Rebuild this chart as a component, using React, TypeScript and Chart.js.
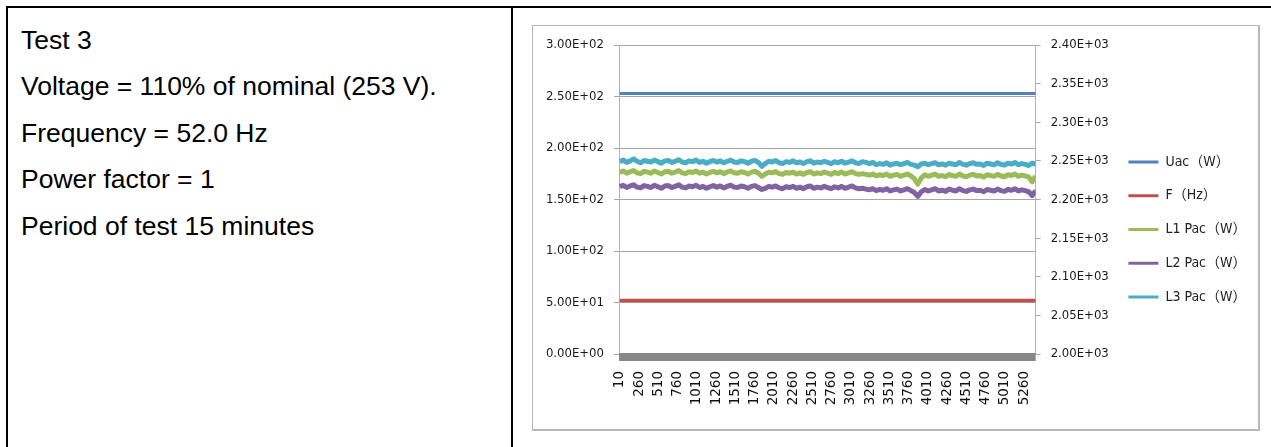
import React, { useEffect, useRef } from 'react';
import { Chart, registerables } from 'chart.js';

Chart.register(...registerables);

// ---------- DATA ----------
const sampleTimes = [
  10, 55, 100, 145, 190, 235, 280, 325, 370, 415,
  460, 505, 550, 595, 640, 685, 730, 775, 820, 865,
  910, 955, 1000, 1045, 1090, 1135, 1180, 1225, 1270, 1315,
  1360, 1405, 1450, 1495, 1540, 1585, 1630, 1675, 1720, 1765,
  1810, 1855, 1900, 1945, 1990, 2035, 2080, 2125, 2170, 2215,
  2260, 2305, 2350, 2395, 2440, 2485, 2530, 2575, 2620, 2665,
  2710, 2755, 2800, 2845, 2890, 2935, 2980, 3025, 3070, 3115,
  3160, 3205, 3250, 3295, 3340, 3385, 3430, 3475, 3520, 3565,
  3610, 3655, 3700, 3745, 3790, 3835, 3880, 3925, 3970, 4015,
  4060, 4105, 4150, 4195, 4240, 4285, 4330, 4375, 4420, 4465,
  4510, 4555, 4600, 4645, 4690, 4735, 4780, 4825, 4870, 4915,
  4960, 5005, 5050, 5095, 5140, 5185, 5230, 5275, 5320, 5365, 5410,
];

const flatTimes = [10, 5410];
const uacValues = [253, 253];
const fValues = [52, 52];

const l1Values = [
  2235, 2237, 2234, 2236, 2237.5, 2234.5, 2233.5, 2236.5, 2235.5, 2234,
  2237, 2235, 2233, 2236, 2236.5, 2234, 2235.5, 2237.5, 2234.5, 2233.5,
  2236, 2235, 2237, 2234, 2235.5, 2233, 2235, 2236.5, 2234.5, 2236,
  2233.5, 2235.5, 2237, 2234.5, 2234, 2236, 2235, 2233, 2235.5, 2236.5,
  2234, 2230, 2233, 2235.5, 2234.5, 2236, 2233.5, 2232.5, 2235, 2234,
  2235.5, 2233, 2234.5, 2232.5, 2235, 2236, 2233, 2234.5, 2233.5, 2235.5,
  2234, 2232.5, 2235, 2233.5, 2235.5, 2233, 2234.5, 2236, 2233.5, 2232.5,
  2233.5, 2232.5, 2231.5, 2233, 2230.5, 2232, 2231, 2233, 2230, 2231.5,
  2232.5, 2230, 2231.5, 2233, 2230.5, 2227, 2220, 2228, 2232, 2230,
  2231.5, 2233, 2230, 2231, 2229.5, 2232.5, 2231, 2230, 2233, 2230.5,
  2229.5, 2231.5, 2232.5, 2230.5, 2231, 2229, 2232, 2231, 2230, 2232.5,
  2230.5, 2229.5, 2232, 2231, 2233, 2230, 2231.5, 2230.5, 2229, 2223, 2230.5,
];

const l2Values = [
  2216.5, 2218.5, 2215.5, 2217.5, 2219, 2216, 2215, 2218, 2217, 2215.5,
  2218.5, 2216.5, 2214.5, 2217.5, 2218, 2215.5, 2217, 2219, 2216, 2215,
  2217.5, 2216.5, 2218.5, 2215.5, 2217, 2214.5, 2216.5, 2218, 2216, 2217.5,
  2215, 2217, 2218.5, 2216, 2215.5, 2217.5, 2216.5, 2214.5, 2217, 2218,
  2215.5, 2213, 2214.5, 2217, 2216, 2217.5, 2215, 2214, 2216.5, 2215.5,
  2217, 2214.5, 2216, 2214, 2216.5, 2217.5, 2214.5, 2216, 2215, 2217,
  2215.5, 2214, 2216.5, 2215, 2217, 2214.5, 2216, 2217.5, 2215, 2214,
  2214.5, 2213.5, 2212.5, 2214, 2211.5, 2213, 2212, 2214, 2211, 2212.5,
  2213.5, 2211, 2212.5, 2214, 2211.5, 2209, 2204, 2210, 2213, 2211,
  2212.5, 2214, 2211, 2212, 2210.5, 2213.5, 2212, 2211, 2214, 2211.5,
  2210.5, 2212.5, 2213.5, 2211.5, 2212, 2210, 2213, 2212, 2211, 2213.5,
  2211.5, 2210.5, 2213, 2212, 2214, 2211, 2212.5, 2211.5, 2210, 2205, 2211.5,
];

const l3Values = [
  2249, 2251, 2248, 2250, 2252.5, 2249.5, 2247.5, 2250.5, 2249.5, 2248.5,
  2251, 2249, 2247, 2250, 2250.5, 2248, 2249.5, 2251.5, 2248.5, 2247.5,
  2250, 2249, 2251, 2248, 2249.5, 2247, 2249, 2250.5, 2248.5, 2250,
  2247.5, 2249.5, 2251, 2248.5, 2248, 2250, 2249, 2247, 2249.5, 2250.5,
  2248, 2243, 2246.5, 2249.5, 2248.5, 2250.5, 2247.5, 2246.5, 2249, 2248,
  2250, 2247.5, 2248.5, 2246.5, 2249, 2250, 2247, 2248.5, 2247.5, 2249.5,
  2248, 2246.5, 2249, 2247.5, 2249.5, 2247, 2248.5, 2250, 2247.5, 2246.5,
  2249, 2248, 2246.5, 2248, 2245, 2246.5, 2245.5, 2247.5, 2244.5, 2246,
  2247, 2245, 2246.5, 2248, 2245.5, 2244.5, 2242.5, 2246, 2247, 2245,
  2246.5, 2247.5, 2245, 2246, 2244.5, 2247, 2246, 2245, 2248, 2245.5,
  2244.5, 2246.5, 2247.5, 2245.5, 2246, 2244, 2247, 2246, 2245, 2247.5,
  2245.5, 2244.5, 2247, 2246, 2248, 2245, 2246.5, 2245.5, 2244, 2247, 2246,
];

const seriesNames = ['Uac（W）', 'F（Hz）', 'L1 Pac（W）', 'L2 Pac（W）', 'L3 Pac（W）'];
const seriesColors = ['#4f81bd', '#c0504d', '#9bbb59', '#8064a2', '#4bacc6'];

const xTickValues = [10, 260, 510, 760, 1010, 1260, 1510, 1760, 2010, 2260, 2510, 2760, 3010, 3260, 3510, 3760, 4010, 4260, 4510, 4760, 5010, 5260];
const leftTickValues = [0, 50, 100, 150, 200, 250, 300];
const leftTickLabels = ['0.00E+00', '5.00E+01', '1.00E+02', '1.50E+02', '2.00E+02', '2.50E+02', '3.00E+02'];
const rightTickValues = [2000, 2050, 2100, 2150, 2200, 2250, 2300, 2350, 2400];
const rightTickLabels = ['2.00E+03', '2.05E+03', '2.10E+03', '2.15E+03', '2.20E+03', '2.25E+03', '2.30E+03', '2.35E+03', '2.40E+03'];

const textLines = [
  'Test 3',
  'Voltage = 110% of nominal (253 V).',
  'Frequency = 52.0 Hz',
  'Power factor = 1',
  'Period of test 15 minutes',
];

// ---------- helpers ----------
const pair = (xs: number[], ys: number[]) => xs.map((x, i) => ({ x, y: ys[i] }));

const condensed = "'DejaVu Sans Condensed', 'Noto Sans CJK SC', sans-serif";
const axisFont = { family: condensed, size: 13 };

const tickBandPlugin = {
  id: 'tickBand',
  afterDatasetsDraw(chart: any) {
    const { ctx, chartArea } = chart;
    ctx.save();
    ctx.fillStyle = '#888888';
    ctx.fillRect(chartArea.left, chartArea.bottom - 1, chartArea.right - chartArea.left, 8);
    ctx.restore();
  },
};

function LineChart() {
  const ref = useRef<HTMLCanvasElement | null>(null);
  useEffect(() => {
    if (!ref.current) return;
    const mk = (i: number, data: any[], axis: string, w: number) => ({
      label: seriesNames[i],
      data,
      yAxisID: axis,
      borderColor: seriesColors[i],
      backgroundColor: seriesColors[i],
      borderWidth: w,
      borderJoinStyle: 'round',
      pointRadius: 0,
      tension: 0,
    });
    const chart = new Chart(ref.current, {
      type: 'line',
      data: {
        datasets: [
          mk(0, pair(flatTimes, uacValues), 'y', 3),
          mk(1, pair(flatTimes, fValues), 'y', 3.5),
          mk(2, pair(sampleTimes, l1Values), 'y1', 5),
          mk(3, pair(sampleTimes, l2Values), 'y1', 5),
          mk(4, pair(sampleTimes, l3Values), 'y1', 5),
        ],
      },
      options: {
        animation: false,
        responsive: false,
        events: [],
        layout: { padding: { top: 19, bottom: 15, left: 0, right: 1.5 } },
        plugins: {
          tooltip: { enabled: false },
          legend: {
            position: 'right',
            maxWidth: 300,
            labels: {
              usePointStyle: true,
              pointStyle: 'line',
              pointStyleWidth: 30,
              padding: 19.75,
              color: '#222222',
              font: { family: condensed, size: 14 },
              generateLabels: (c: any) =>
                (Chart as any).defaults.plugins.legend.labels.generateLabels(c).map((l: any) => ({ ...l, lineWidth: 3 })),
            },
          },
        },
        scales: {
          x: {
            type: 'linear',
            min: 0,
            max: 5410,
            afterBuildTicks: (s: any) => { s.ticks = xTickValues.map((v) => ({ value: v })); },
            afterFit: (s: any) => { s.height = 60; },
            ticks: {
              autoSkip: false,
              minRotation: 90,
              maxRotation: 90,
              padding: 17,
              color: '#111111',
              font: { family: "'DejaVu Sans', sans-serif", size: 13.5 },
              callback: (v: any) => String(v),
            },
            grid: { display: false, drawTicks: false },
            border: { display: false },
          },
          y: {
            position: 'left',
            min: 0,
            max: 300,
            afterBuildTicks: (s: any) => { s.ticks = leftTickValues.map((v) => ({ value: v })); },
            afterFit: (s: any) => { s.width = 86; },
            ticks: {
              padding: 10,
              color: '#1a1a1a',
              font: axisFont,
              callback: (v: any) => leftTickLabels[leftTickValues.indexOf(Number(v))],
            },
            grid: { color: '#a6a6a6', tickLength: 5, lineWidth: 1 },
            border: { color: '#b3b3b3' },
          },
          y1: {
            position: 'right',
            min: 2000,
            max: 2400,
            afterBuildTicks: (s: any) => { s.ticks = rightTickValues.map((v) => ({ value: v })); },
            afterFit: (s: any) => { s.width = 73; },
            ticks: {
              padding: 10,
              color: '#1a1a1a',
              font: axisFont,
              callback: (v: any) => rightTickLabels[rightTickValues.indexOf(Number(v))],
            },
            grid: { drawOnChartArea: false, color: '#a6a6a6', tickLength: 5 },
            border: { color: '#b3b3b3' },
          },
        },
      },
      plugins: [tickBandPlugin],
    } as any);
    return () => chart.destroy();
  }, []);
  return <canvas ref={ref} width={725} height={403} style={{ width: 725, height: 403, display: 'block' }} />;
}

export default function App() {
  const baselines = [49.3, 95.8, 142.3, 188.8, 235.3];
  return (
    <div style={{ position: 'absolute', left: 0, top: 0, width: 1271, height: 447, overflow: 'hidden', background: '#fff' }}>
      <div style={{ position: 'absolute', left: 6, top: 6, width: 1300, height: 2, background: '#000' }} />
      <div style={{ position: 'absolute', left: 6, top: 6, width: 2, height: 460, background: '#000' }} />
      <div style={{ position: 'absolute', left: 511, top: 6, width: 2, height: 460, background: '#000' }} />
      {textLines.map((t, i) => (
        <div
          key={i}
          style={{
            position: 'absolute',
            left: 21,
            top: baselines[i] - 22.4,
            fontFamily: "'Liberation Sans', Arial, sans-serif",
            fontSize: 26.5,
            lineHeight: 1,
            whiteSpace: 'nowrap',
            color: '#000',
          }}
        >
          {t}
        </div>
      ))}
      <div style={{ position: 'absolute', left: 532, top: 25, width: 725, height: 403, border: '1px solid #b8b8b8', borderRightWidth: 2, borderBottomWidth: 2 }}>
        <LineChart />
      </div>
    </div>
  );
}
